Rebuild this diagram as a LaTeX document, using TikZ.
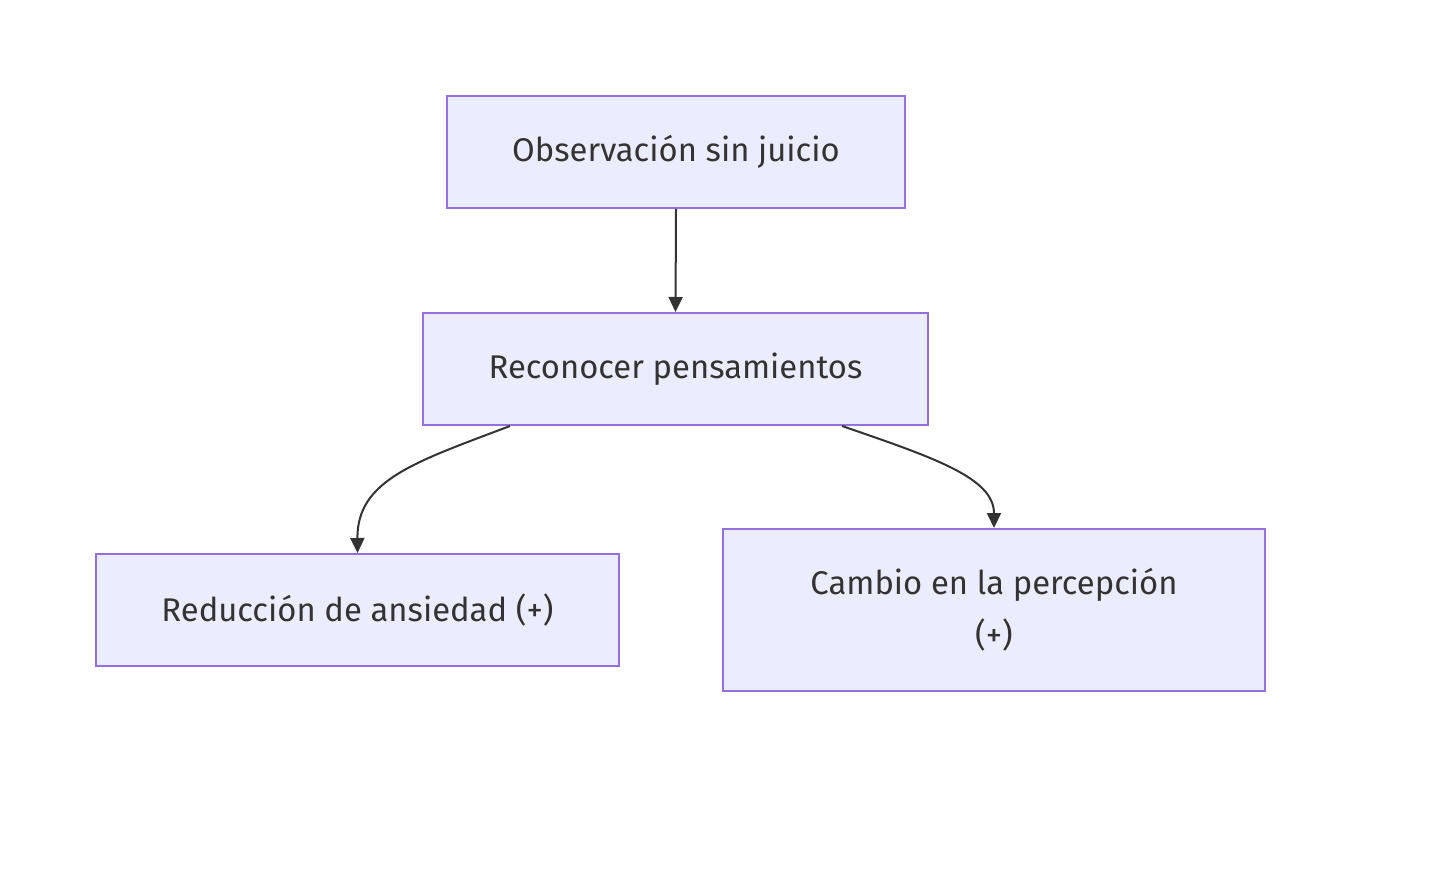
\documentclass[tikz,border=0pt]{standalone}
\usepackage{fontspec}
\setmainfont{Fira Sans}
\usetikzlibrary{arrows.meta}
\definecolor{boxfill}{HTML}{ECECFF}
\definecolor{boxline}{HTML}{9370DB}
\definecolor{ink}{HTML}{333333}
\begin{document}
\begin{tikzpicture}[x=0.5pt,y=-0.5pt,
  box/.style={rectangle,draw=boxline,fill=boxfill,line width=1pt,text=ink,
    font=\fontsize{16.4}{26}\selectfont,align=center,inner sep=0pt},
  link/.style={draw=ink,line width=1pt,-{Triangle[length=7.5pt,width=7pt]}}]
\useasboundingbox (0,0) rectangle (1444,882);
\node[box,minimum width=229pt,minimum height=56pt] (a) at (676,152) {Observación sin juicio};
\node[box,minimum width=252.5pt,minimum height=56pt] (b) at (675.5,369) {Reconocer pensamientos};
\node[box,minimum width=261.5pt,minimum height=56pt] (c) at (357.5,610) {Reducción de ansiedad (+)};
\node[box,minimum width=271pt,minimum height=81pt] (d) at (994,610) {Cambio en la percepción\\(+)};
\draw[link] (a.south) -- (b.north);
\draw[link] ([xshift=-82.75pt]b.south) .. controls (415,462) and (357,480) .. (c.north);
\draw[link] ([xshift=83.25pt]b.south) .. controls (935,458) and (994,478) .. (d.north);
\end{tikzpicture}
\end{document}
